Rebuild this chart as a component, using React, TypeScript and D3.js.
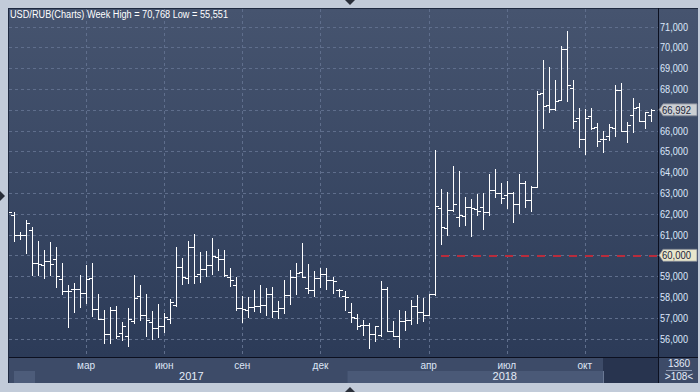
import React from "react";
import * as d3 from "d3";

const W = 700;
const H = 392;

// Weekly bars, first bar dated 2016-12-03, one bar per week
const firstBarDate = new Date(2016, 11, 3);

const openVals = [
  62.25, 61.94, 61.0, 61.0, 61.23, 59.62, 59.51, 59.74, 59.82, 58.87,
  58.29, 58.37, 58.37, 58.18, 58.89, 57.43, 56.94, 56.22, 57.38, 56.25,
  56.13, 56.85, 58.02, 57.14, 56.78, 56.51, 56.59, 56.96, 57.6, 59.43,
  58.89, 60.39, 59.11, 59.34, 59.54, 59.91, 59.82, 58.95, 58.58, 57.46,
  57.38, 57.51, 57.57, 57.6, 58.13, 57.3, 57.46, 58.1, 58.95, 59.22,
  58.42, 58.34, 58.9, 59.11, 58.82, 58.34, 58.02, 57.26, 56.98, 56.64,
  56.64, 56.22, 56.19, 58.4, 56.38, 56.13, 56.83, 56.91, 57.55, 57.28,
  57.15, 58.14, 62.26, 61.3, 62.18, 61.85, 61.9, 62.34, 62.21, 62.3,
  62.1, 63.14, 63.01, 62.9, 63.01, 62.47, 63.49, 62.66, 63.28, 67.81,
  67.25, 67.01, 67.49, 69.91, 68.04, 66.58, 65.57, 66.69, 66.16, 65.57,
  65.73, 66.13, 67.93, 66.0, 66.73, 67.12, 66.45, 66.73,
];
const highVals = [
  62.35, 62.1, 61.13, 61.71, 61.36, 60.68, 60.27, 60.62, 60.41, 59.64,
  58.58, 58.68, 59.05, 59.51, 59.64, 58.16, 57.38, 57.51, 57.57, 56.77,
  57.46, 59.06, 58.58, 58.15, 57.3, 57.67, 57.22, 57.91, 60.41, 59.88,
  60.68, 61.04, 60.14, 60.23, 60.84, 60.31, 60.27, 59.38, 58.95, 58.05,
  57.99, 58.34, 58.56, 58.42, 58.47, 57.78, 58.8, 59.3, 59.62, 60.59,
  59.58, 59.26, 59.38, 59.38, 58.95, 58.4, 58.26, 57.7, 57.18, 56.91,
  56.75, 56.59, 58.78, 58.46, 56.83, 57.38, 57.31, 57.84, 58.08, 57.95,
  58.16, 65.05, 63.17, 63.06, 64.28, 64.04, 62.82, 62.69, 62.95, 62.98,
  63.93, 64.17, 63.46, 63.58, 63.05, 63.93, 63.58, 63.33, 67.92, 69.4,
  69.04, 68.44, 70.04, 70.768, 68.44, 67.09, 67.05, 67.09, 66.37, 66.0,
  66.32, 68.2, 68.28, 66.42, 67.57, 67.33, 66.9, 67.01,
];
const lowVals = [
  61.95, 60.67, 60.78, 60.11, 59.06, 59.06, 58.93, 59.03, 58.5, 58.16,
  56.53, 57.25, 57.52, 57.7, 57.1, 56.94, 55.8, 55.76, 56.04, 55.93,
  55.65, 56.74, 56.9, 56.14, 55.96, 56.09, 56.33, 56.74, 57.57, 58.6,
  58.65, 58.65, 58.74, 59.01, 59.11, 59.27, 59.0, 58.53, 57.38, 56.77,
  57.02, 57.3, 57.25, 57.14, 57.02, 56.98, 57.22, 57.65, 58.15, 58.95,
  58.21, 58.02, 58.47, 58.37, 58.18, 58.02, 57.35, 56.77, 56.45, 56.19,
  55.551, 55.87, 56.11, 56.35, 56.13, 55.6, 56.42, 56.7, 56.75, 56.83,
  57.15, 58.1, 60.56, 60.99, 62.15, 61.39, 61.46, 60.91, 61.94, 61.26,
  61.94, 62.79, 62.53, 62.26, 61.62, 62.05, 62.34, 62.15, 63.3, 66.1,
  66.89, 66.97, 67.49, 67.44, 66.1, 65.2, 64.88, 66.08, 65.25, 64.98,
  65.52, 65.73, 66.0, 65.46, 65.94, 66.45, 66.13, 66.45,
];
const closeVals = [
  62.1, 61.0, 61.0, 61.55, 59.62, 59.58, 59.74, 59.58, 59.0, 58.29,
  58.29, 58.37, 58.2, 58.87, 57.43, 56.94, 56.22, 57.38, 56.11, 56.61,
  56.94, 57.94, 57.14, 56.9, 56.51, 56.59, 57.02, 57.76, 59.43, 58.95,
  60.39, 59.0, 59.34, 59.54, 59.98, 59.82, 59.05, 58.82, 57.46, 57.4,
  57.51, 57.57, 57.6, 58.13, 57.3, 57.46, 58.1, 58.95, 59.14, 58.98,
  58.34, 58.9, 59.11, 58.82, 58.77, 58.31, 57.99, 57.02, 56.61, 56.64,
  56.22, 56.59, 58.4, 56.38, 56.13, 56.83, 56.91, 57.55, 57.28, 57.15,
  58.14, 62.36, 61.35, 62.18, 62.47, 61.92, 62.34, 62.26, 62.15, 62.1,
  63.14, 63.01, 62.74, 63.01, 62.47, 63.49, 62.66, 63.28, 67.76, 67.17,
  67.01, 67.44, 69.91, 68.17, 66.48, 65.57, 66.61, 66.1, 65.49, 65.57,
  66.16, 67.93, 66.0, 66.26, 67.09, 66.45, 66.89, 66.992,
];

const yTickValues = [56, 57, 58, 59, 60, 61, 62, 63, 64, 65, 66, 67, 68, 69, 70, 71];
const monthTickDates = [
  new Date(2017, 2, 1), new Date(2017, 5, 1), new Date(2017, 8, 1), new Date(2017, 11, 1),
  new Date(2018, 3, 1), new Date(2018, 6, 1), new Date(2018, 9, 1),
];
const monthTickLabels = ["мар", "июн", "сен", "дек", "апр", "июл", "окт"];
const yearLabels = ["2016", "2017", "2018"];

const titleText = "USD/RUB(Charts) Week High = 70,768 Low = 55,551";
const lastValue = 66.992;
const alertValue = 60;
const barCountLabel = "1360";
const visibleCountLabel = ">108<";

const FONT = "'Liberation Sans', Arial, sans-serif";

export default function App() {
  const plotL = 9, plotR = 658, plotT = 9, plotB = 357;
  const n = openVals.length;
  const barDates = d3.range(n).map((i) => d3.timeDay.offset(firstBarDate, 7 * i));
  const x = d3.scaleLinear().domain([0, n - 1]).range([8, 651]);
  const y = d3.scaleLinear().domain([56, 71]).range([338.5, 26.5]);
  const fmt = d3.format(",.0f");

  const px = (v: number) => Math.round(v) + 0.5;

  const monthTickIdx = monthTickDates.map((d) => barDates.findIndex((bd) => bd >= d));

  const years = yearLabels.map((yl) => {
    const idx = barDates.map((d, i) => (String(d.getFullYear()) === yl ? i : -1)).filter((i) => i >= 0);
    return { label: yl, first: idx[0], last: idx[idx.length - 1] };
  });

  const barPath = (i: number) => {
    const cx = px(x(i));
    const yh = Math.round(y(highVals[i]));
    const yl = Math.round(y(lowVals[i]));
    const yo = px(y(openVals[i]));
    const yc = px(y(closeVals[i]));
    return `M${cx},${yh}V${yl + 1}M${cx - 3.5},${yo}H${cx}M${cx},${yc}H${cx + 3.5}`;
  };

  const lastY = y(lastValue);
  const alertY = y(alertValue);
  const lastLabel = d3.format(",.3f")(lastValue).replace(".", ",");
  const tagYs = [lastY, alertY];

  const tag = (cy: number, fill: string, text: string, key: string) => (
    <g key={key}>
      <path
        d={`M659,${cy} L663,${cy - 6} H697 V${cy + 6} H663 Z`}
        fill={fill}
        stroke="#7d8494"
        strokeWidth={0.8}
      />
      <text x={662} y={cy + 4} fontSize={10} fill="#1c2438" fontFamily={FONT} textLength={29} lengthAdjust="spacingAndGlyphs">
        {text}
      </text>
    </g>
  );

  return (
    <svg width={W} height={H} style={{ position: "absolute", left: 0, top: 0 }}>
      <defs>
        <linearGradient id="bg" x1="0" y1="0" x2="0" y2="1">
          <stop offset="0" stopColor="#46546f" />
          <stop offset="1" stopColor="#2c3b58" />
        </linearGradient>
        <clipPath id="plotClip">
          <rect x={plotL} y={plotT} width={plotR - plotL} height={plotB - plotT} />
        </clipPath>
      </defs>
      <rect x={0} y={0} width={W} height={H} fill="#c2cbd9" />
      {/* frame */}
      <rect x={8} y={8} width={690} height={375} fill="#1e2940" />
      <rect x={plotL} y={plotT} width={plotR - plotL} height={plotB - plotT} fill="url(#bg)" />
      <rect x={659} y={plotT} width={39} height={plotB - plotT} fill="url(#bg)" />
      {/* x axis area */}
      <rect x={plotL} y={358} width={689} height={25} fill="#3d4b68" />
      {years.map((yr, k) => {
        const x0 = yr.first === 0 ? 14 : x(yr.first) - 3;
        const x1 = yr.last === n - 1 ? plotR : x(yr.last) + 3;
        return k % 2 === 0 ? (
          <rect key={yr.label} x={x0} y={371} width={x1 - x0} height={12} fill={k === 0 ? "#4d5c7a" : "#4a5977"} />
        ) : null;
      })}
      <rect x={603} y={358} width={55} height={25} fill="#28344f" />
      <line x1={603.5} x2={603.5} y1={371} y2={383} stroke="#6a7894" />
      <rect x={659} y={358} width={39} height={25} fill="#3d4b68" />

      {/* grid */}
      <g clipPath="url(#plotClip)">
        {yTickValues.map((v) => (
          <line key={"gy" + v} x1={plotL} x2={plotR} y1={px(y(v))} y2={px(y(v))} stroke="#5f6e8c" strokeDasharray="3,3" />
        ))}
        {monthTickIdx.map((i, k) => (
          <line key={"gx" + k} x1={px(x(i))} x2={px(x(i))} y1={plotT} y2={plotB} stroke="#5f6e8c" strokeDasharray="3,3" />
        ))}
        <line
          x1={441}
          x2={plotR}
          y1={Math.round(alertY) + 1}
          y2={Math.round(alertY) + 1}
          stroke="#b82c3c"
          strokeWidth={2}
          strokeDasharray="8,8"
        />
        <g stroke="#ffffff" strokeWidth={1} fill="none" shapeRendering="crispEdges">
          {d3.range(n).map((i) => (
            <path key={"b" + i} d={barPath(i)} />
          ))}
        </g>
      </g>

      {/* separators */}
      <line x1={658.5} x2={658.5} y1={8} y2={383} stroke="#0c1020" />
      <line x1={plotL} x2={698} y1={357.5} y2={357.5} stroke="#0c1020" />

      {/* title */}
      <text x={10} y={18} fontSize={10} fill="#ffffff" fontFamily={FONT} textLength={218} lengthAdjust="spacingAndGlyphs">
        {titleText}
      </text>

      {/* y labels (those hidden under the price tags are skipped) */}
      {yTickValues
        .filter((v) => tagYs.every((ty) => Math.abs(y(v) - ty) > 9))
        .map((v) => (
          <text key={"yl" + v} x={660} y={y(v) + 4} fontSize={10} fill="#dde8fb" fontFamily={FONT} textLength={28} lengthAdjust="spacingAndGlyphs">
            {fmt(v * 1000)}
          </text>
        ))}
      {tag(alertY, "#e8e6cc", fmt(alertValue * 1000), "alert")}
      {tag(lastY, "#cbcfd3", lastLabel, "last")}

      {/* x labels */}
      {monthTickIdx.map((i, k) => (
        <text key={"ml" + k} x={x(i)} y={369} fontSize={10} fill="#dde6f6" textAnchor="middle" fontFamily={FONT}>
          {monthTickLabels[k]}
        </text>
      ))}
      {years
        .filter((yr) => yr.last - yr.first > 10)
        .map((yr) => {
          const x0 = x(yr.first) - 3;
          const x1 = yr.last === n - 1 ? plotR + 4 : x(yr.last) + 3;
          return (
            <text key={"yt" + yr.label} x={(x0 + x1) / 2} y={380} fontSize={11} fill="#e4ebf8" textAnchor="middle" fontFamily={FONT}>
              {yr.label}
            </text>
          );
        })}

      {/* bottom-right counters */}
      <text x={679} y={366.5} fontSize={10} fill="#e4ebf8" textAnchor="middle" fontFamily={FONT}>
        {barCountLabel}
      </text>
      <line x1={666} x2={692} y1={370.5} y2={370.5} stroke="#8d9ab2" />
      <text x={679} y={380} fontSize={10} fill="#e4ebf8" textAnchor="middle" fontFamily={FONT}>
        {visibleCountLabel}
      </text>

      {/* splitter arrows */}
      <path d="M345,0 L355,0 L350,5 Z" fill="#2a2f3a" />
      <path d="M345,392 L355,392 L350,387 Z" fill="#2a2f3a" />
      <path d="M0,191 L0,201 L5,196 Z" fill="#2a2f3a" />
    </svg>
  );
}
